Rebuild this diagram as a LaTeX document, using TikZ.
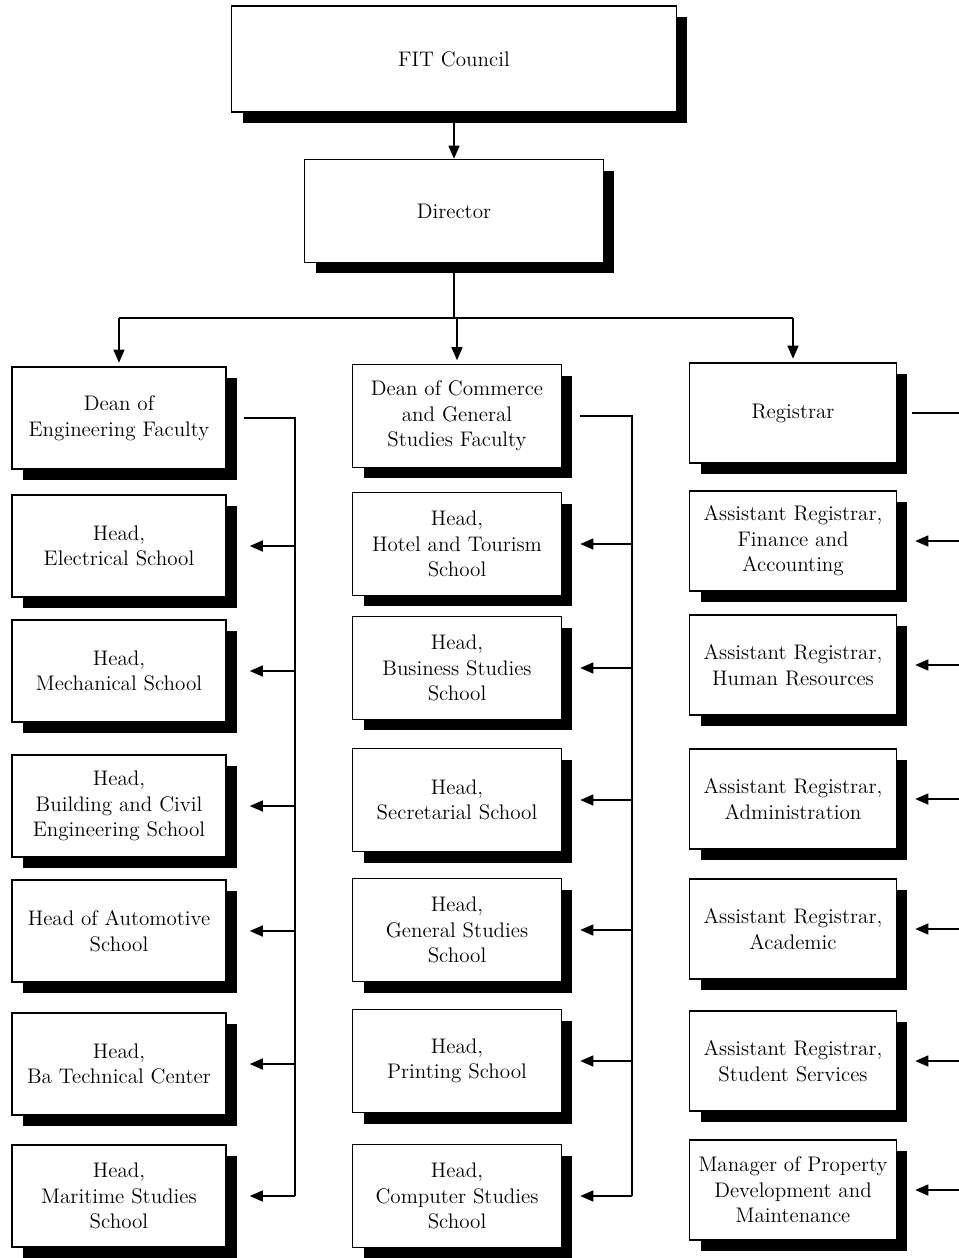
\documentclass[tikz,border=0pt]{standalone}
\usepackage{tikz}
\usetikzlibrary{arrows.meta}
\usetikzlibrary{shadows}
\tikzset{post/.style={rectangle,draw=black,line width=0.9pt,fill=white,align=center,inner sep=1pt,drop shadow={shadow xshift=0.22cm,shadow yshift=-0.22cm,fill=black,opacity=1},font=\fontsize{12}{14.5}\selectfont}}

\begin{document}
\begin{tikzpicture}[x=0.02cm,y=-0.02cm]
  % some styles
  \tikzset{
    topbox/.style={post,minimum width=8.9cm,minimum height=2.12cm},
    dirbox/.style={post,minimum width=5.98cm,minimum height=2.06cm},
    engbox/.style={post,minimum width=4.28cm,minimum height=2.04cm},
    combox/.style={post,minimum width=4.18cm,minimum height=2.06cm},
    regbox/.style={post,minimum width=4.14cm,minimum height=2.0cm},
    link/.style={line width=0.8pt},
    arr/.style={link,-{Triangle[length=2.6mm,width=2.2mm]}}
  }
  \useasboundingbox (0,0) rectangle (959,1258);

  \node[topbox] (fit) at (454,59) {FIT Council};
  \node[dirbox] (dir) at (454,211) {Director};

  % engineering column
  \foreach \n/\y/\t in {1/418/{Dean of\\Engineering Faculty},
                        2/546/{Head,\\Electrical School},
                        3/671/{Head,\\Mechanical School},
                        4/806/{Head,\\Building and Civil\\Engineering School},
                        5/931/{Head of Automotive\\School},
                        6/1064/{Head,\\Ba Technical Center},
                        7/1196/{Head,\\Maritime Studies\\School}} {
     \node[engbox] (e\n) at (119,\y) {\t};
  }
  % commerce column
  \foreach \n/\y/\t in {1/416/{Dean of Commerce\\and General\\Studies Faculty},
                        2/544/{Head,\\Hotel and Tourism\\School},
                        3/668/{Head,\\Business Studies\\School},
                        4/800/{Head,\\Secretarial School},
                        5/930/{Head,\\General Studies\\School},
                        6/1061/{Head,\\Printing School},
                        7/1196/{Head,\\Computer Studies\\School}} {
     \node[combox] (c\n) at (457,\y) {\t};
  }
  % registrar column
  \foreach \n/\y/\t in {1/413/{Registrar},
                        2/541/{Assistant Registrar,\\Finance and\\Accounting},
                        3/665/{Assistant Registrar,\\Human Resources},
                        4/799/{Assistant Registrar,\\Administration},
                        5/929/{Assistant Registrar,\\Academic},
                        6/1061/{Assistant Registrar,\\Student Services},
                        7/1190/{Manager of Property\\Development and\\Maintenance}} {
     \node[regbox] (r\n) at (793,\y) {\t};
  }

  % top links
  \draw[arr] (fit.south) -- (dir.north);
  \coordinate (bar) at (0,318);
  \draw[link] (dir.south) -- (dir.south |- bar);
  \draw[link] (bar -| e1.north) -- (bar -| r1.north);
  \foreach \k in {e1,c1,r1}
     \draw[arr,shorten >=2pt] (bar -| \k.north) -- (\k.north);

  % brackets
  \coordinate (ebar) at (295,0);
  \coordinate (cbar) at (632,0);
  \coordinate (rbar) at (968,0);
  \draw[link] ([xshift=0.34cm]e1.east) -- (e1.east -| ebar) -- (e7.east -| ebar);
  \draw[link] ([xshift=0.36cm]c1.east) -- (c1.east -| cbar) -- (c7.east -| cbar);
  \draw[link] ([xshift=0.3cm]r1.east) -- (r1.east -| rbar) -- (r7.east -| rbar);
  \foreach \i in {2,...,7} {
     \draw[arr] (e\i.east -| ebar) -- ([xshift=0.46cm]e\i.east);
     \draw[arr] (c\i.east -| cbar) -- ([xshift=0.36cm]c\i.east);
     \draw[arr] (r\i.east -| rbar) -- ([xshift=0.36cm]r\i.east);
  }
\end{tikzpicture}
\end{document}
